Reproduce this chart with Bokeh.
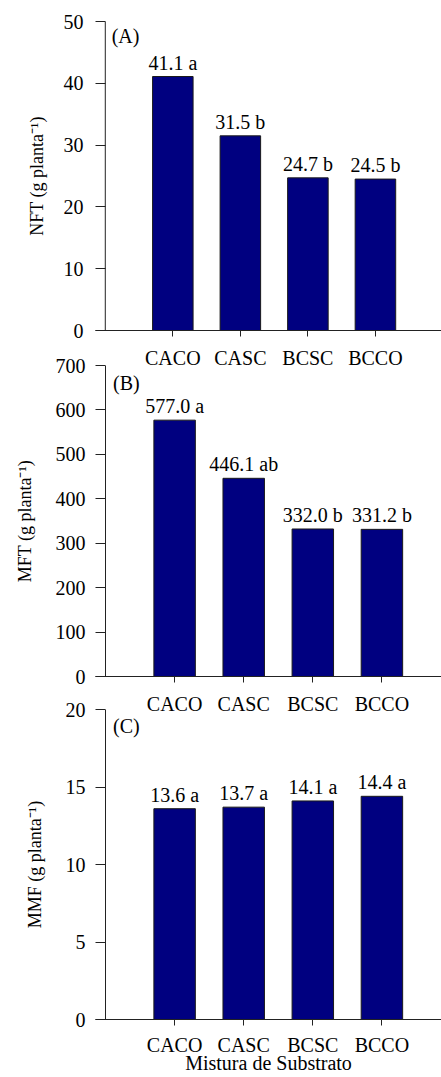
from bokeh.core.properties import value
from bokeh.embed import file_html
from bokeh.layouts import column
from bokeh.models import FixedTicker, Label, Range1d, Span
from bokeh.plotting import figure
from bokeh.resources import INLINE

# ---- data ----
categories = ["CACO", "CASC", "BCSC", "BCCO"]

nft = [41.1, 31.5, 24.7, 24.5]
nft_letters = ["a", "b", "b", "b"]
nft_ticks = [0, 10, 20, 30, 40, 50]

mft = [577.0, 446.1, 332.0, 331.2]
mft_letters = ["a", "ab", "b", "b"]
mft_ticks = [0, 100, 200, 300, 400, 500, 600, 700]

mmf = [13.6, 13.7, 14.1, 14.4]
mmf_letters = ["a", "a", "a", "a"]
mmf_ticks = [0, 5, 10, 15, 20]

FONT = "Liberation Serif"
BAR_COLOR = "#000080"
AXIS_COLOR = "#222222"
WIDTH = 441
STEP = 69.0  # pixels between category positions


def panel(values, letters, ticks, ymax, tag, ytitle, *, height, top, frame_h,
          axis_px, page_top, tag_pos, label_standoff=10, ylabel_standoff=10,
          ytitle_standoff=18, margin_top=0, xlabel=None):
    frame_left = axis_px - 10
    bottom = height - top - frame_h
    x_start = (frame_left - axis_px) / STEP
    x_end = (WIDTH - axis_px) / STEP
    fb = page_top + top + frame_h  # frame bottom in page pixels

    def px_x(sx):
        return (sx - axis_px) / STEP

    def px_y(sy):
        return (fb - sy) * ymax / frame_h

    p = figure(width=WIDTH, height=height, output_backend="svg", toolbar_location=None,
               x_range=Range1d(x_start, x_end), y_range=Range1d(0, ymax),
               min_border_left=int(frame_left), min_border_right=0,
               min_border_top=top, min_border_bottom=bottom,
               margin=(margin_top, 0, 0, 0))
    p.background_fill_alpha = 0
    p.border_fill_alpha = 0
    p.outline_line_color = None
    p.xgrid.visible = False
    p.ygrid.visible = False

    xs = list(range(1, len(categories) + 1))
    p.vbar(x=xs, top=values, width=0.6, bottom=0,
           fill_color=BAR_COLOR, line_color="#1a1a1a", line_width=1)
    p.text(x=xs, y=values, text=[f"{v:.1f} {l}" for v, l in zip(values, letters)],
           text_align="center", text_baseline="middle", y_offset=-14,
           text_font=value(FONT), text_font_size="20px", text_color="black")

    # vertical axis line at x = 0, ticks pointing out of it to the left
    p.add_layout(Span(location=0, dimension="height", line_color=AXIS_COLOR, line_width=1))

    ya = p.yaxis[0]
    ya.ticker = FixedTicker(ticks=ticks)
    ya.axis_line_color = None
    ya.major_tick_in = 10
    ya.major_tick_out = 0
    ya.major_tick_line_color = AXIS_COLOR
    ya.minor_tick_line_color = None
    ya.major_label_standoff = ylabel_standoff
    ya.major_label_text_font = FONT
    ya.major_label_text_font_size = "20px"
    ya.major_label_text_color = "black"
    ya.axis_label = ytitle
    ya.axis_label_standoff = ytitle_standoff
    ya.axis_label_text_font = FONT
    ya.axis_label_text_font_size = "18px"
    ya.axis_label_text_font_style = "normal"
    ya.axis_label_text_color = "black"

    xa = p.xaxis[0]
    xa.ticker = FixedTicker(ticks=xs)
    xa.major_label_overrides = {i: c for i, c in zip(xs, categories)}
    xa.axis_line_color = AXIS_COLOR
    xa.major_tick_line_color = AXIS_COLOR
    xa.major_tick_in = 0
    xa.major_tick_out = 6
    xa.minor_tick_line_color = None
    xa.major_label_standoff = label_standoff
    xa.major_label_text_font = FONT
    xa.major_label_text_font_size = "20px"
    xa.major_label_text_color = "black"
    if xlabel:
        xa.axis_label = xlabel
        xa.axis_label_standoff = -7
        xa.axis_label_text_font = FONT
        xa.axis_label_text_font_size = "20px"
        xa.axis_label_text_font_style = "normal"
        xa.axis_label_text_color = "black"

    # panel tag
    p.add_layout(Label(x=px_x(tag_pos[0]), y=px_y(tag_pos[1]), text=tag,
                       text_font=FONT, text_font_size="20px", text_color="black",
                       text_align="left", text_baseline="middle"))
    return p


pa = panel(nft, nft_letters, nft_ticks, 50, "(A)", "NFT (g planta\u207b\u00b9)",
           height=371, top=21, frame_h=310, axis_px=97.5, page_top=0,
           tag_pos=(104, 36), ylabel_standoff=12, ytitle_standoff=14)
pb = panel(mft, mft_letters, mft_ticks, 700, "(B)", "MFT (g planta\u207b\u00b9)",
           height=362, top=9, frame_h=311, axis_px=105.5, page_top=356,
           tag_pos=(113, 382), margin_top=-15)
pc = panel(mmf, mmf_letters, mmf_ticks, 20, "(C)", "MMF (g planta\u207b\u00b9)",
           height=377, top=9, frame_h=310, axis_px=105.5, page_top=700,
           tag_pos=(113, 725.5), label_standoff=8, margin_top=-18,
           xlabel="Mistura de Substrato")

layout = column(pa, pb, pc, spacing=0)

with open("out.html", "w") as f:
    f.write(file_html(layout, INLINE))
